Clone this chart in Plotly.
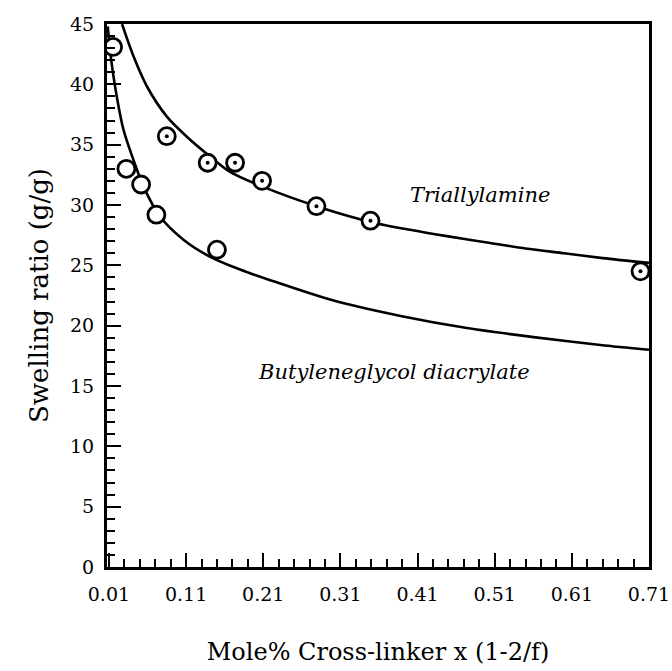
import plotly.graph_objects as go

# Measured data points
tri_x = [0.085, 0.138, 0.1735, 0.2085, 0.279, 0.349, 0.699]
tri_y = [35.7, 33.5, 33.5, 32.0, 29.9, 28.7, 24.5]

but_x = [0.0154, 0.0326, 0.0517, 0.0715, 0.150]
but_y = [43.1, 33.0, 31.7, 29.2, 26.3]

# Fitted curves
tri_fit_x = [0.027, 0.042, 0.0595, 0.0854, 0.111, 0.1415, 0.167, 0.21, 0.279, 0.349, 0.40, 0.45, 0.50, 0.55, 0.60, 0.65, 0.71]
tri_fit_y = [45.0, 42.3, 39.8, 37.3, 35.66, 34.0, 32.75, 31.5, 29.9, 28.6, 27.95, 27.4, 26.9, 26.4, 26.0, 25.6, 25.2]

but_fit_x = [0.0085, 0.0118, 0.018, 0.029, 0.042, 0.055, 0.0767, 0.107, 0.14, 0.18, 0.22, 0.30, 0.388, 0.474, 0.5605, 0.647, 0.71]
but_fit_y = [44.8, 42.6, 39.8, 36.2, 33.7, 31.5, 29.0, 27.1, 25.75, 24.65, 23.75, 22.1, 20.8, 19.8, 19.05, 18.4, 18.0]

x_ticks = [0.01, 0.11, 0.21, 0.31, 0.41, 0.51, 0.61, 0.71]
x_ticktext = ["0.01", "0.11", "0.21", "0.31", "0.41", "0.51", "0.61", "0.71"]
y_ticks = [0, 5, 10, 15, 20, 25, 30, 35, 40, 45]

FONT = "DejaVu Serif"

fig = go.Figure()
fig.add_trace(go.Scatter(x=tri_fit_x, y=tri_fit_y, mode="lines",
                         line=dict(color="black", width=2.6, shape="spline", smoothing=0.8),
                         hoverinfo="skip"))
fig.add_trace(go.Scatter(x=but_fit_x, y=but_fit_y, mode="lines",
                         line=dict(color="black", width=2.6, shape="spline", smoothing=0.8),
                         hoverinfo="skip"))
fig.add_trace(go.Scatter(x=tri_x, y=tri_y, mode="markers",
                         marker=dict(symbol="circle", size=17, color="white",
                                     line=dict(color="black", width=2.8))))
fig.add_trace(go.Scatter(x=tri_x, y=tri_y, mode="markers",
                         marker=dict(symbol="circle", size=4, color="black")))
fig.add_trace(go.Scatter(x=but_x, y=but_y, mode="markers",
                         marker=dict(symbol="circle", size=17, color="white",
                                     line=dict(color="black", width=2.8))))

fig.add_annotation(x=0.4905, y=30.8, text="<i>Triallylamine</i>", showarrow=False,
                   font=dict(family=FONT, size=21, color="black"))
fig.add_annotation(x=0.379, y=16.15, text="<i>Butyleneglycol diacrylate</i>", showarrow=False,
                   font=dict(family=FONT, size=21, color="black"))

fig.update_layout(
    width=672, height=671,
    margin=dict(l=107, r=23, t=24, b=104, autoexpand=False),
    paper_bgcolor="white", plot_bgcolor="white",
    showlegend=False,
    font=dict(family=FONT, size=19, color="black"),
)
fig.update_xaxes(
    range=[0.0075, 0.71], showgrid=False, zeroline=False, automargin=False,
    showline=True, linecolor="black", linewidth=3, mirror=True,
    tickmode="array", tickvals=x_ticks, ticktext=x_ticktext,
    ticks="inside", ticklen=14, tickwidth=2, tickcolor="black",
    minor=dict(tickmode="linear", tick0=0.01, dtick=0.02, ticks="inside", ticklen=8, tickwidth=2, tickcolor="black"),
    ticklabelstandoff=8,
    title=dict(text="Mole% Cross-linker x (1-2/f)", font=dict(family=FONT, size=24), standoff=40),
)
fig.update_yaxes(
    range=[0, 45], showgrid=False, zeroline=False, automargin=False,
    showline=True, linecolor="black", linewidth=3, mirror=True,
    tickmode="array", tickvals=y_ticks,
    ticks="inside", ticklen=14, tickwidth=2, tickcolor="black",
    minor=dict(tickmode="linear", tick0=0, dtick=1, ticks="inside", ticklen=8, tickwidth=2, tickcolor="black"),
    ticklabelstandoff=6,
    title=dict(text="Swelling ratio (g/g)", font=dict(family=FONT, size=26), standoff=14),
)

fig.write_html("out.html")
